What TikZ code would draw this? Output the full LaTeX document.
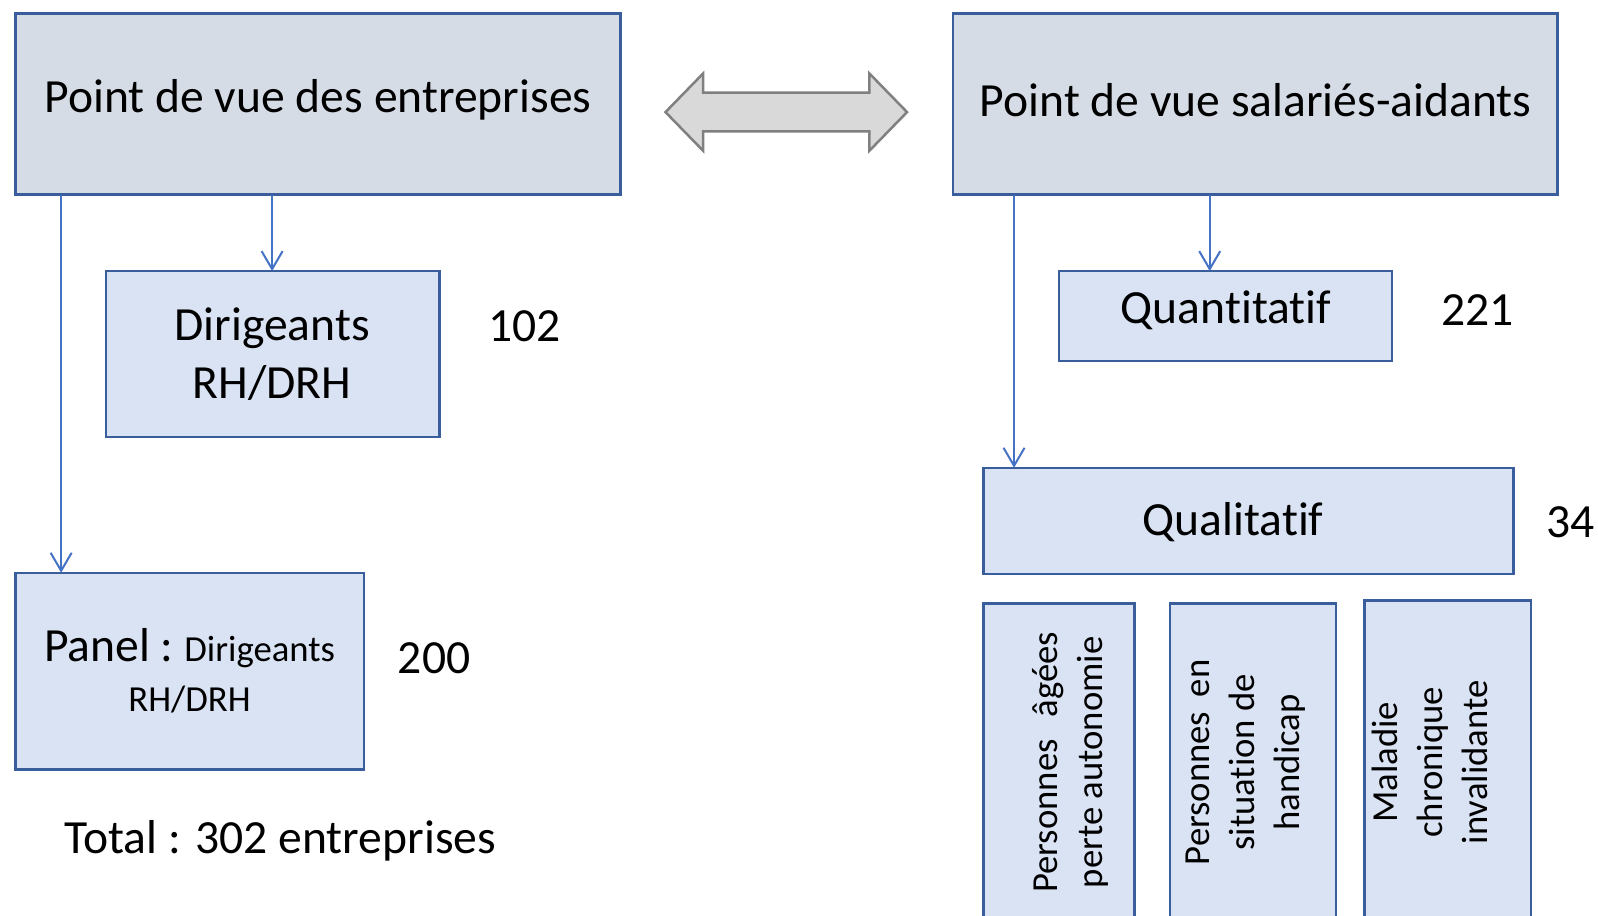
\documentclass[tikz,border=0pt]{standalone}
\usepackage{fontspec}
\setmainfont[RawFeature={-liga;-clig}]{Carlito}
\usetikzlibrary{arrows.meta}
\definecolor{hdrfill}{HTML}{D6DCE5}
\definecolor{boxfill}{HTML}{DAE3F3}
\definecolor{boxline}{HTML}{3A5D9C}
\definecolor{arrblue}{HTML}{4472C4}
\definecolor{dafill}{HTML}{D9D9D9}
\definecolor{daline}{HTML}{808080}
\begin{document}
\begin{tikzpicture}[x=1.0191pt,y=-1.0191pt,
  hdr/.style={draw=boxline,fill=hdrfill,line width=2.5pt},
  sub/.style={draw=boxline,fill=boxfill,line width=2.5pt},
  big/.style={font=\fontsize{47.6}{58}\selectfont,align=center,inner sep=0pt},
  mid/.style={font=\fontsize{36.7}{45}\selectfont,align=center,inner sep=0pt},
  conn/.style={draw=arrblue,line width=2pt,-{Straight Barb[length=18pt,width=21pt,line width=2pt]}}]
\useasboundingbox (0,0) rectangle (1568,898);
% header boxes
\draw[hdr] (15,13) rectangle (609,191);
\node[big] (A) at (312,98) {Point de vue des entreprises};
\draw[hdr] (935,13) rectangle (1528,191);
\node[big] (B) at (1232,98) {Point de vue salariés-aidants};
\coordinate (Ab1) at (60,191);
\coordinate (Ab2) at (267,191);
\coordinate (Bb1) at (995,191);
\coordinate (Bb2) at (1187,191);
% double arrow
\filldraw[fill=dafill,draw=daline,line width=2.5pt,line join=miter]
  (653,110) -- (690,72) -- (690,91) -- (853,91) -- (853,72) -- (890,110)
  -- (853,148) -- (853,129) -- (690,129) -- (690,148) -- cycle;
% left side
\draw[sub] (104,266) rectangle (431,429);
\node[big] (dir) at (267,347) {Dirigeants\\RH/DRH};
\coordinate (dirT) at (267,266);
\node[big] (n102) at (515,320) {102};
\draw[sub] (15,562) rectangle (357,755);
\coordinate (panT) at (60,562);
\node[inner sep=0pt,align=center,font=\fontsize{36.7}{50}\selectfont] (pan) at (186,658)
  {{\fontsize{47.6}{58}\selectfont Panel :\ }Dirigeants\\RH/DRH};
\node[big] (n200) at (426,646) {200};
\node[big] (tot) at (275,825) {Total : 302 entreprises};
% right side
\draw[sub] (1039,266) rectangle (1366,354);
\coordinate (quaT) at (1187,266);
\node[big] (qua) at (1203,304) {Quantitatif};
\node[big] (n221) at (1450,304) {221};
\draw[sub] (965,459) rectangle (1485,563);
\coordinate (qalT) at (995,459);
\node[big] (qal) at (1210,512) {Qualitatif};
\node[big] (n34) at (1541,512) {34};
% bottom boxes
\draw[sub] (965,920) -- (965,592) -- (1113,592) -- (1113,920);
\node[mid,rotate=90] (p1) at (1050,748) {Personnes\hspace{0.6em}âgées\\perte autonomie};
\draw[sub] (1148,920) -- (1148,592) -- (1311,592) -- (1311,920);
\node[mid,rotate=90] (p2) at (1222,748) {Personnes\hspace{0.4em}en\\situation de\\handicap};
\draw[sub] (1339,920) -- (1339,589) -- (1502,589) -- (1502,920);
\node[mid,rotate=90] (p3) at (1403,748) {Maladie\\chronique\\invalidante};
% connectors
\draw[conn] (Ab2) -- (dirT);
\draw[conn] (Ab1) -- (panT);
\draw[conn] (Bb2) -- (quaT);
\draw[conn] (Bb1) -- (qalT);
\end{tikzpicture}
\end{document}
